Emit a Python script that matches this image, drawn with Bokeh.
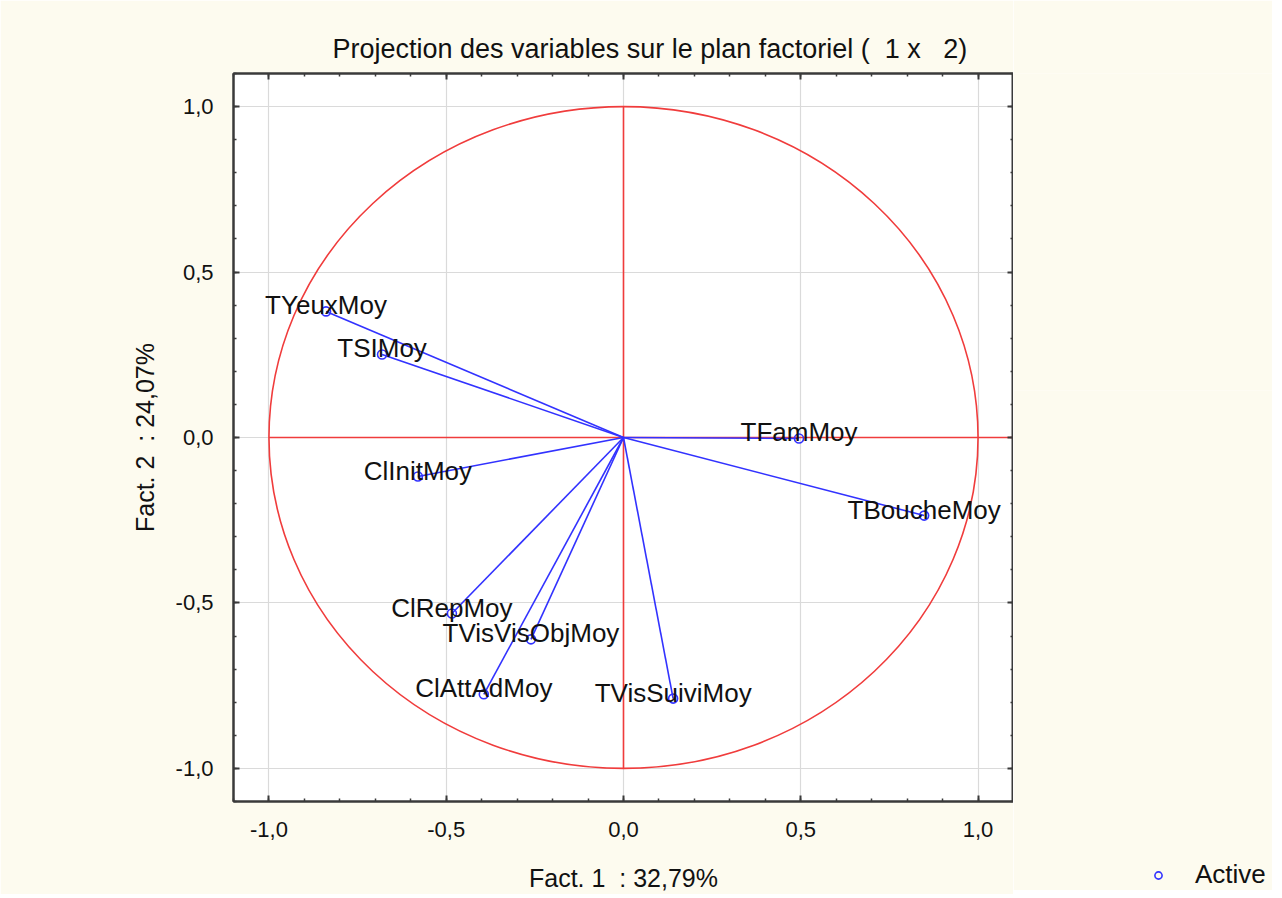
from bokeh.plotting import figure
from bokeh.layouts import row
from bokeh.models import (LinearAxis, FixedTicker, Range1d, Legend, LegendItem,
                          CustomJSTickFormatter, ColumnDataSource)
from bokeh.embed import file_html
from bokeh.resources import INLINE
from bokeh.core.properties import value

# ---- data ----
variables = ["TYeuxMoy", "TSIMoy", "ClInitMoy", "TFamMoy", "TBoucheMoy",
             "ClRepMoy", "TVisVisObjMoy", "ClAttAdMoy", "TVisSuiviMoy"]
fact1 = [-0.839, -0.681, -0.580, 0.495, 0.848, -0.484, -0.261, -0.394, 0.140]
fact2 = [0.381, 0.251, -0.118, -0.003, -0.236, -0.532, -0.610, -0.776, -0.789]

tick_values = [-1.0, -0.5, 0.0, 0.5, 1.0]
tick_labels = ["-1,0", "-0,5", "0,0", "0,5", "1,0"]
minor_values = [round(-1.1 + 0.1 * i, 1) for i in range(23)]

NB = "\u00a0"
title_text = "Projection des variables sur le plan factoriel (" + NB * 2 + "1 x" + NB * 3 + "2)"
x_label = "Fact. 1" + NB * 2 + ": 32,79%"
y_label = "Fact. 2" + NB * 2 + ": 24,07%"
legend_label = "Active"

# ---- style ----
FONT = "Liberation Sans"
CREAM = "#FDFBEF"
RED = "#F03C3C"
BLUE = "#3232FF"
DARK = "#3a3a3a"
TEXT = "#111111"

p = figure(frame_width=780, frame_height=728, output_backend="svg", toolbar_location=None,
           x_range=Range1d(-1.1, 1.1), y_range=Range1d(-1.1, 1.1),
           min_border_left=233, min_border_right=0, min_border_top=73, min_border_bottom=89,
           background_fill_color="white", border_fill_color=CREAM,
           outline_line_color=DARK, outline_line_width=2)

bottom_axis = p.xaxis[0]
left_axis = p.yaxis[0]
top_axis = LinearAxis()
right_axis = LinearAxis()
p.add_layout(top_axis, "above")
p.add_layout(right_axis, "right")

ticker = FixedTicker(ticks=tick_values, minor_ticks=minor_values)
overrides = dict(zip(tick_values, tick_labels))

for ax in [bottom_axis, left_axis, top_axis, right_axis]:
    ax.ticker = ticker
    ax.axis_line_color = DARK
    ax.axis_line_width = 2
    ax.major_tick_in = 6
    ax.major_tick_out = 0
    ax.minor_tick_in = 3
    ax.minor_tick_out = 0
    ax.major_tick_line_color = DARK
    ax.major_tick_line_width = 2
    ax.minor_tick_line_color = DARK
    ax.minor_tick_line_width = 1.5
    ax.major_label_text_font = FONT
    ax.major_label_text_font_size = "22px"
    ax.major_label_text_color = TEXT
    ax.axis_label_text_font = FONT
    ax.axis_label_text_font_size = "25px"
    ax.axis_label_text_font_style = "normal"
    ax.axis_label_text_color = TEXT

for ax in [top_axis, right_axis]:
    ax.formatter = CustomJSTickFormatter(code="return ''")
    ax.major_label_standoff = 0
    ax.major_label_text_font_size = "0px"

bottom_axis.major_label_overrides = overrides
left_axis.major_label_overrides = overrides
bottom_axis.axis_label = x_label
left_axis.axis_label = y_label
bottom_axis.major_label_standoff = 20
left_axis.major_label_standoff = 20
bottom_axis.axis_label_standoff = 24
left_axis.axis_label_standoff = 14

p.xgrid.ticker = ticker
p.ygrid.ticker = ticker
for g in [p.xgrid, p.ygrid]:
    g.grid_line_color = "#dadada"
    g.grid_line_width = 1.2

p.title.text = title_text
p.title.text_font = FONT
p.title.text_font_size = "27px"
p.title.text_font_style = "normal"
p.title.text_color = TEXT
p.title.align = "left"
p.title.offset = 99
p.title.standoff = 20

# reference circle and axes
p.ellipse(x=0, y=0, width=2, height=2, fill_color=None, line_color=RED, line_width=1.6)
p.segment(x0=[0, -1], y0=[-1, 0], x1=[0, 1.1], y1=[1, 0], line_color=RED, line_width=1.6)

src = ColumnDataSource(dict(x=fact1, y=fact2, name=variables))
p.segment(x0=0, y0=0, x1="x", y1="y", source=src, line_color=BLUE, line_width=1.6)
p.scatter("x", "y", source=src, marker="circle", size=9, fill_color=None,
          line_color=BLUE, line_width=1.6)
p.text("x", "y", text="name", source=src, text_align="center", text_baseline="alphabetic",
       y_offset=-6, text_font=value(FONT), text_font_size="26px", text_color=TEXT)

# side panel holding the legend
side = figure(width=259, height=890, output_backend="svg", toolbar_location=None,
              title=None, x_axis_location=None, y_axis_location=None,
              x_range=Range1d(0, 259), y_range=Range1d(-1.1, 1.1),
              min_border=0, background_fill_color=CREAM, border_fill_color=CREAM,
              outline_line_color=None)
side.grid.visible = False
# legend key marker (kept outside the visible range; only its legend glyph is shown)
legend_pts = side.scatter(x=[-1000], y=[0], marker="circle", size=9, fill_color=None,
                          line_color=BLUE, line_width=1.6)
legend = Legend(items=[LegendItem(label=legend_label, renderers=[legend_pts])], location=(136, 0),
                background_fill_alpha=0, border_line_color=None, padding=0, margin=0,
                glyph_width=18, glyph_height=18, label_standoff=28,
                label_text_font=FONT, label_text_font_size="26px", label_text_color=TEXT)
side.add_layout(legend, "below")

layout = row(p, side)
open("out.html", "w").write(file_html(layout, INLINE))
